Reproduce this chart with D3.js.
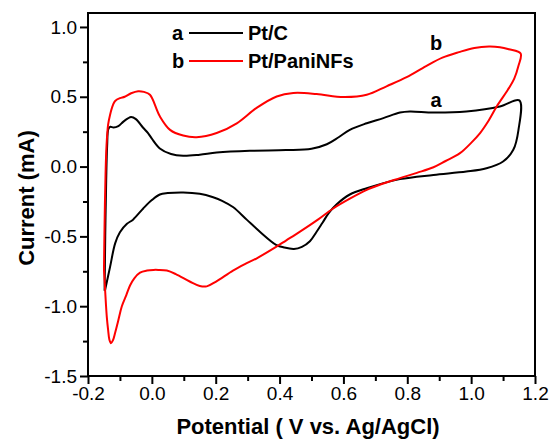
<!DOCTYPE html>
<html><head><meta charset="utf-8">
<script src="https://cdn.jsdelivr.net/npm/d3@7"></script>
<style>body{margin:0;background:#fff}svg{display:block}</style>
</head><body>
<svg id="c" width="552" height="440"></svg>
<script>
// Series a: Pt/C  (potential V, current mA), one full cycle
const potA = [-0.148,-0.146,-0.143,-0.140,-0.136,-0.130,-0.120,-0.105,-0.090,-0.075,-0.065,-0.050,-0.028,-0.012,0.0,0.025,0.06,0.098,0.15,0.203,0.307,0.42,0.5,0.548,0.585,0.62,0.673,0.725,0.777,0.808,0.882,0.985,1.09,1.151,
  1.148,1.132,1.1,1.048,0.985,0.882,0.777,0.673,0.62,0.579,0.555,0.535,0.515,0.495,0.47,0.445,0.415,0.389,0.34,0.297,0.254,0.22,0.192,0.15,0.098,0.05,0.025,0.0,-0.027,-0.059,-0.078,-0.1,-0.115,-0.131,-0.147];
const curA = [-0.89,-0.5,-0.1,0.15,0.27,0.285,0.28,0.29,0.32,0.345,0.355,0.34,0.28,0.24,0.2,0.13,0.09,0.077,0.085,0.10,0.113,0.118,0.128,0.16,0.21,0.263,0.31,0.347,0.387,0.395,0.387,0.395,0.43,0.474,
  0.26,0.12,0.036,-0.012,-0.036,-0.06,-0.09,-0.155,-0.2,-0.27,-0.33,-0.40,-0.47,-0.535,-0.575,-0.59,-0.58,-0.56,-0.47,-0.38,-0.29,-0.245,-0.22,-0.195,-0.185,-0.19,-0.2,-0.24,-0.3,-0.38,-0.41,-0.47,-0.55,-0.72,-0.89];
// Series b: Pt/PaniNFs
const potB = [-0.15,-0.148,-0.145,-0.142,-0.137,-0.131,-0.122,-0.115,-0.1,-0.085,-0.065,-0.043,-0.025,-0.006,0.025,0.057,0.098,0.14,0.203,0.266,0.328,0.391,0.443,0.516,0.6,0.673,0.735,0.798,0.859,0.91,0.962,1.01,1.056,1.09,1.118,1.155,
  1.148,1.135,1.115,1.08,1.055,1.028,1.0,0.965,0.92,0.882,0.83,0.777,0.72,0.673,0.62,0.568,0.52,0.464,0.42,0.389,0.33,0.29,0.254,0.2,0.172,0.15,0.12,0.075,0.047,0.02,0.005,-0.015,-0.037,-0.055,-0.068,-0.08,-0.094,-0.105,-0.115,-0.122,-0.128,-0.133,-0.137,-0.141,-0.144,-0.147,-0.15];
const curB = [-0.74,-0.4,-0.05,0.15,0.3,0.37,0.44,0.47,0.49,0.5,0.525,0.54,0.535,0.514,0.36,0.263,0.222,0.21,0.24,0.31,0.42,0.502,0.527,0.52,0.498,0.514,0.575,0.64,0.72,0.78,0.82,0.85,0.86,0.855,0.84,0.81,
  0.72,0.63,0.55,0.43,0.33,0.24,0.17,0.096,0.04,-0.005,-0.045,-0.083,-0.125,-0.167,-0.23,-0.30,-0.38,-0.466,-0.53,-0.575,-0.655,-0.70,-0.745,-0.825,-0.858,-0.855,-0.825,-0.77,-0.745,-0.74,-0.74,-0.745,-0.76,-0.8,-0.85,-0.92,-1.0,-1.1,-1.19,-1.245,-1.265,-1.24,-1.17,-1.08,-0.98,-0.86,-0.74];

const xTicks = [-0.2,0.0,0.2,0.4,0.6,0.8,1.0,1.2];
const yTicks = [-1.5,-1.0,-0.5,0.0,0.5,1.0];
const legendKeys = ["a","b"];
const legendNames = ["Pt/C","Pt/PaniNFs"];
const colors = ["#000000","#ff0000"];

const svg = d3.select("#c");
const L=88,R=535,T=13,B=376;
const x = d3.scaleLinear().domain([-0.2,1.2]).range([L,R]);
const y = d3.scaleLinear().domain([-1.5,1.1]).range([B,T]);

const fmt = d3.format(".1f");
const fmtLbl = v => fmt(v).replace("\u2212","-");

const xAxis = d3.axisBottom(x).tickValues(xTicks).tickFormat(fmtLbl).tickSize(8).tickPadding(3);
const xMinor = d3.axisBottom(x).tickValues(d3.range(-0.1,1.2,0.2)).tickFormat("").tickSize(5);
const yAxis = d3.axisLeft(y).tickValues(yTicks).tickFormat(fmtLbl).tickSize(8).tickPadding(3);
const yMinor = d3.axisLeft(y).tickValues([-1.25,-0.75,-0.25,0.25,0.75]).tickFormat("").tickSize(5);

function style(g){
  g.select(".domain").remove();
  g.selectAll("line").attr("stroke","#000").attr("stroke-width",2);
  g.selectAll("text").attr("fill","#000").style("font-family","'Liberation Sans',Arial,sans-serif").style("font-size","19px");
}
svg.append("g").attr("transform",`translate(0,${B})`).call(xAxis).call(style);
svg.append("g").attr("transform",`translate(0,${B})`).call(xMinor).call(style);
svg.append("g").attr("transform",`translate(${L},0)`).call(yAxis).call(style);
svg.append("g").attr("transform",`translate(${L},0)`).call(yMinor).call(style);

const line = d3.line().x(d=>x(d[0])).y(d=>y(d[1])).curve(d3.curveCatmullRom.alpha(0.5));
const series = [d3.zip(potA,curA), d3.zip(potB,curB)];
svg.append("g").selectAll("path").data(series).join("path")
  .attr("d",line).attr("fill","none").attr("stroke",(d,i)=>colors[i]).attr("stroke-width",2).attr("stroke-linejoin","round");

svg.append("rect").attr("x",L).attr("y",T).attr("width",R-L).attr("height",B-T)
  .attr("fill","none").attr("stroke","#000").attr("stroke-width",2);

const bold = "'Liberation Sans',Arial,sans-serif";
const lg = svg.append("g");
legendKeys.forEach((k,i)=>{
  const yy = 33 + i*28;
  lg.append("text").attr("x",172).attr("y",yy+7).text(k).style("font-family",bold).style("font-weight","bold").style("font-size","20px");
  lg.append("line").attr("x1",189).attr("x2",243).attr("y1",yy).attr("y2",yy).attr("stroke",colors[i]).attr("stroke-width",2);
  lg.append("text").attr("x",248).attr("y",yy+7).text(legendNames[i]).style("font-family",bold).style("font-weight","bold").style("font-size","20px");
});
svg.append("text").attr("x",436).attr("y",50).attr("text-anchor","middle").text("b").style("font-family",bold).style("font-weight","bold").style("font-size","20px");
svg.append("text").attr("x",436).attr("y",107).attr("text-anchor","middle").text("a").style("font-family",bold).style("font-weight","bold").style("font-size","20px");

svg.append("text").attr("x",308).attr("y",434).attr("text-anchor","middle").text("Potential ( V vs. Ag/AgCl)")
  .style("font-family",bold).style("font-weight","bold").style("font-size","22px");
svg.append("text").attr("transform","translate(34,198) rotate(-90)").attr("text-anchor","middle").text("Current (mA)")
  .style("font-family",bold).style("font-weight","bold").style("font-size","22px");
</script>
</body></html>
